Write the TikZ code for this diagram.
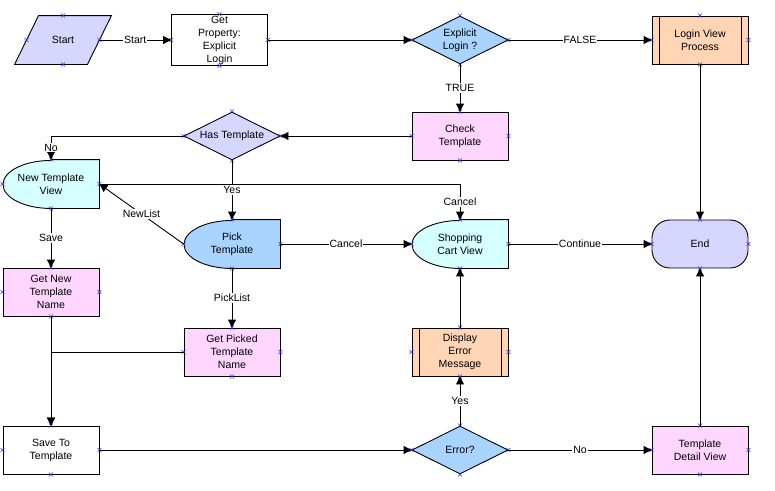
\documentclass[tikz,border=0pt]{standalone}
\usepackage{fontspec}
\setmainfont{Liberation Sans}
\usetikzlibrary{shapes.geometric,arrows.meta,backgrounds}

\definecolor{lav}{HTML}{D6D6FF}
\definecolor{skyblue}{HTML}{A8D4FF}
\definecolor{peach}{HTML}{FFD5B6}
\definecolor{pinkbg}{HTML}{FFD6FF}
\definecolor{cyanbg}{HTML}{D6FFFF}
\definecolor{markblue}{HTML}{3030FF}

\begin{document}
\begin{tikzpicture}[x=1pt,y=1pt,
    font=\fontsize{10.5}{13}\selectfont,
    shapebox/.style={minimum width=96pt, minimum height=48pt, inner sep=1pt, align=center, line width=0.9pt},
    procbox/.style={shapebox, draw, fill=#1},
    procbox/.default=pinkbg,
    decbox/.style={shapebox, diamond, aspect=2, inner sep=0pt, draw, fill=#1},
    viewbox/.style={shapebox},
    prebox/.style={procbox=peach, path picture={
        \draw ([xshift=7pt]path picture bounding box.north west) -- ([xshift=7pt]path picture bounding box.south west)
              ([xshift=-7pt]path picture bounding box.north east) -- ([xshift=-7pt]path picture bounding box.south east);}},
    termbox/.style={procbox=lav, rounded corners=18pt},
    iobox/.style={shapebox, minimum width=72pt},
    flow/.style={-{Triangle[length=8pt,width=8pt]}, line width=0.9pt},
    lbl/.style={fill=white, inner sep=1pt},
    markx/.style={markblue, line width=0.5pt}]

    \useasboundingbox (0,0) rectangle (775,-490);

    % Top row
    \node[iobox] (start) at (63,-40) {Start};
    \node[procbox=white] (getprop) at (219.5,-40) {Get\\Property:\\Explicit\\Login};
    \node[decbox=skyblue] (explicit) at (460,-40) {Explicit\\Login ?};
    \node[prebox] (loginview) at (700,-40) {Login View\\Process};

    % Template check
    \node[procbox] (checktpl) at (460,-136) {Check\\Template};
    \node[decbox=lav] (hastpl) at (232,-136) {Has Template};

    % Views
    \node[viewbox] (newview) at (51,-184) {New Template\\View};
    \node[viewbox] (pick) at (232,-244) {Pick\\Template};
    \node[viewbox] (cart) at (460,-244) {Shopping\\Cart View};
    \node[termbox] (end) at (700,-244) {End};

    % Names
    \node[procbox] (getnew) at (51,-292) {Get New\\Template\\Name};
    \node[procbox] (getpicked) at (232,-352) {Get Picked\\Template\\Name};
    \node[prebox] (disperr) at (460,-352) {Display\\Error\\Message};

    % Bottom row
    \node[procbox=white] (saveto) at (51,-450) {Save To\\Template};
    \node[decbox=skyblue] (error) at (460,-450) {Error?};
    \node[procbox] (tdview) at (700,-450) {Template\\Detail View};

    % Shapes behind the text
    \begin{scope}[on background layer]
        \filldraw[fill=lav, line width=0.9pt] ([xshift=-12pt]start.south west) -- ([xshift=12pt]start.north west)
            -- ([xshift=12pt]start.north east) -- ([xshift=-12pt]start.south east) -- cycle;
        \foreach \n/\c in {newview/cyanbg, pick/skyblue, cart/cyanbg}
            \filldraw[fill=\c, line width=0.9pt] (\n.north) -- (\n.north east) -- (\n.south east) -- (\n.south)
                arc[start angle=270, end angle=90, x radius=48pt, y radius=24pt] -- cycle;
    \end{scope}

    % Connection marks
    \foreach \n in {start,getprop,explicit,loginview,checktpl,hastpl,newview,pick,cart,end,getnew,getpicked,disperr,saveto,error,tdview}
        \foreach \a in {north,south,east,west}
            \draw[markx] (\n.\a) +(-2,-2) -- +(2,2) +(-2,2) -- +(2,-2);

    % Connectors
    \draw[flow] (start) -- node[lbl]{Start} (getprop);
    \draw[flow] (getprop) -- (explicit);
    \draw[flow] (explicit) -- node[lbl]{FALSE} (loginview);
    \draw[flow] (explicit) -- node[lbl]{TRUE} (checktpl);
    \draw[flow] (loginview) -- (end);
    \draw[flow] (checktpl) -- (hastpl);
    \draw[flow] (hastpl.west) -| node[lbl,pos=0.75]{No} (newview.north);
    \draw[flow] (hastpl) -- node[lbl]{Yes} (pick);
    \draw[flow] (pick.west) -- node[lbl]{NewList} (newview.east);
    \draw[flow] (newview.east) -| node[lbl,pos=0.75]{Cancel} (cart.north);
    \draw[flow] (pick) -- node[lbl]{Cancel} (cart);
    \draw[flow] (cart) -- node[lbl]{Continue} (end);
    \draw[flow] (newview) -- node[lbl]{Save} (getnew);
    \draw[flow] (pick) -- node[lbl]{PickList} (getpicked);
    \draw[flow] (getnew) -- (saveto);
    \draw[flow] (getpicked.west) -| (saveto.north);
    \draw[flow] (saveto) -- (error);
    \draw[flow] (error) -- node[lbl]{Yes} (disperr);
    \draw[flow] (disperr) -- (cart);
    \draw[flow] (error) -- node[lbl]{No} (tdview);
    \draw[flow] (tdview) -- (end);
\end{tikzpicture}
\end{document}
